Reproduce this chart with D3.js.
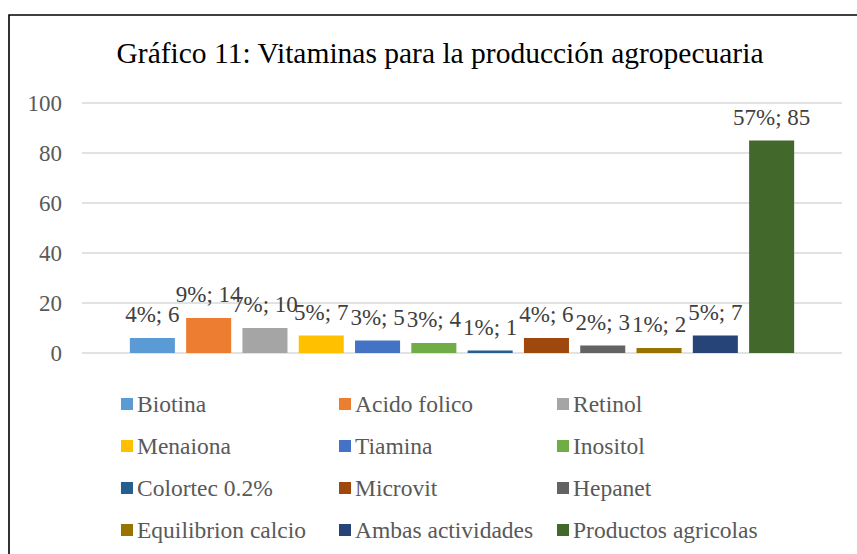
<!DOCTYPE html>
<html>
<head>
<meta charset="utf-8">
<script src="https://cdn.jsdelivr.net/npm/d3@7"></script>
<style>
html, body { margin: 0; padding: 0; background: #fff; }
svg { display: block; }
</style>
</head>
<body>
<div id="chart"></div>
<script>
const title = "Gráfico 11: Vitaminas para la producción agropecuaria";
const categories = ["Biotina", "Acido folico", "Retinol", "Menaiona", "Tiamina", "Inositol",
  "Colortec 0.2%", "Microvit", "Hepanet", "Equilibrion calcio", "Ambas actividades", "Productos agricolas"];
const values = [6, 14, 10, 7, 5, 4, 1, 6, 3, 2, 7, 85];
const percentLabels = ["4%", "9%", "7%", "5%", "3%", "3%", "1%", "4%", "2%", "1%", "5%", "57%"];
const colors = ["#5B9BD5", "#ED7D31", "#A5A5A5", "#FFC000", "#4472C4", "#70AD47",
  "#255E91", "#9E480E", "#636363", "#997300", "#264478", "#43682B"];
const yTicks = [0, 20, 40, 60, 80, 100];

const FONT = "'Liberation Serif'";
const W = 857, H = 554;
const svg = d3.select("#chart").append("svg").attr("width", W).attr("height", H)
  .style("font-family", FONT);

// frame (chart area border, extends beyond the picture on right/bottom)
svg.append("path")
  .attr("d", `M9,${H + 5} V15 H${W + 5}`)
  .attr("fill", "none").attr("stroke", "#000").attr("stroke-width", 1.6);

// title
svg.append("text")
  .attr("x", 440).attr("y", 63)
  .attr("text-anchor", "middle")
  .style("font-family", FONT)
  .style("font-size", "29.5px")
  .attr("fill", "#000")
  .text(title);

const plotL = 82, plotR = 842;
const y = d3.scaleLinear().domain([0, 100]).range([353, 103]);
const x = d3.scaleBand().domain(categories).range([plotL, plotR]).paddingInner(0.2).paddingOuter(0.85);

// gridlines
svg.append("g").selectAll("line").data(yTicks).join("line")
  .attr("x1", plotL).attr("x2", plotR)
  .attr("y1", d => y(d)).attr("y2", d => y(d))
  .attr("stroke", "#d9d9d9").attr("stroke-width", 1.3);

// y axis labels via d3 axis
const yAxis = d3.axisLeft(y).tickValues(yTicks).tickSize(0).tickPadding(0);
const yg = svg.append("g").attr("transform", `translate(62,0)`).call(yAxis)
  .attr("font-family", null).attr("font-size", null);
yg.select(".domain").remove();
yg.selectAll("text")
  .style("font-family", FONT)
  .style("font-size", "23px").attr("fill", "#595959").attr("dy", "0.33em");

// bars
svg.append("g").selectAll("rect").data(categories).join("rect")
  .attr("x", d => x(d)).attr("width", x.bandwidth())
  .attr("y", (d, i) => y(values[i]))
  .attr("height", (d, i) => y(0) - y(values[i]))
  .attr("fill", (d, i) => colors[i]);

// data labels
svg.append("g").selectAll("text").data(categories).join("text")
  .attr("x", d => x(d) + x.bandwidth() / 2)
  .attr("y", (d, i) => y(values[i]) - 16)
  .attr("text-anchor", "middle")
  .style("font-family", FONT)
  .style("font-size", "23px").attr("fill", "#404040")
  .text((d, i) => `${percentLabels[i]}; ${values[i]}`);

// legend
const legCols = [121, 339, 557];
const legRows = [404, 446, 488, 530];
const leg = svg.append("g").selectAll("g").data(categories).join("g")
  .attr("transform", (d, i) => `translate(${legCols[i % 3]},${legRows[Math.floor(i / 3)]})`);
leg.append("rect").attr("x", 0).attr("y", -6).attr("width", 12).attr("height", 12)
  .attr("fill", (d, i) => colors[i]);
leg.append("text").attr("x", 16).attr("y", 7.5)
  .style("font-family", FONT)
  .style("font-size", "23.5px").attr("fill", "#595959")
  .text(d => d);
</script>
</body>
</html>
